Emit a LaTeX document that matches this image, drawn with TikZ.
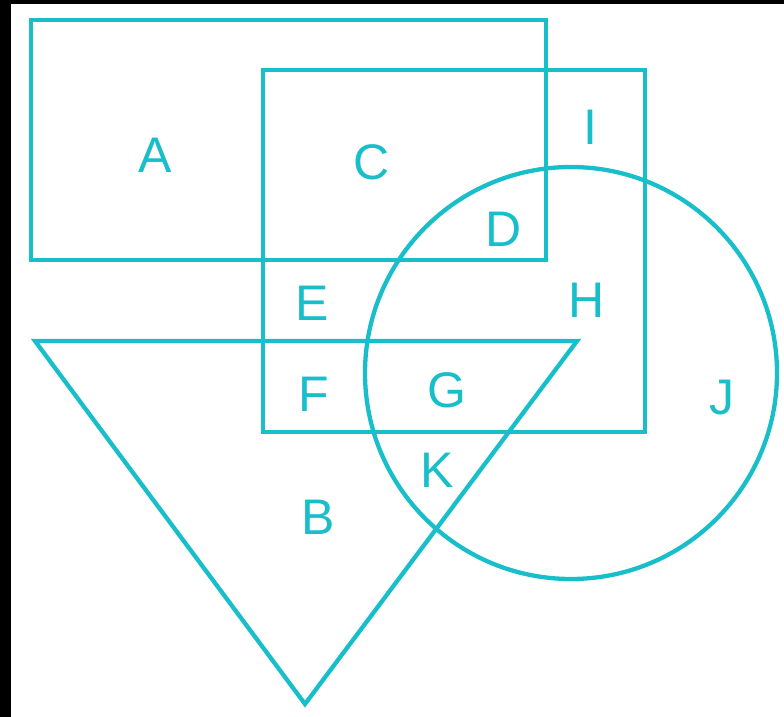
\documentclass[tikz,border=0pt]{standalone}
\usepackage{fontspec}
\setmainfont{Liberation Sans}
\usepackage{xcolor}
\definecolor{setc}{HTML}{18BECA}

\begin{document}
\begin{tikzpicture}[x=1pt, y=-1pt, line width=4.3pt,
  lbl/.style={text=setc, font=\fontsize{50}{56}\selectfont, inner sep=0pt}]
  \useasboundingbox (0,0) rectangle (784,717);
  % black frame edges
  \fill[black] (0,0) rectangle (11,717);
  \fill[black] (0,0) rectangle (784,4);

  % sets
  \draw[setc] (31,20) rectangle (546,260);
  \draw[setc] (263,70) rectangle (645,432);
  \draw[setc] (571,373) circle (206);
  \draw[setc, line join=miter] (35,341) -- (577,341) -- (305,704) -- cycle;

  % region labels
  \node[lbl] (la) at (155,155) {A};
  \node[lbl] (lc) at (372,162) {C};
  \node[lbl] (li) at (590,127) {I};
  \node[lbl] (ld) at (504,229) {D};
  \node[lbl] (le) at (312,303) {E};
  \node[lbl] (lh) at (587,300) {H};
  \node[lbl] (lf) at (314,394) {F};
  \node[lbl] (lg) at (447,390) {G};
  \node[lbl] (lj) at (722,398) {J};
  \node[lbl] (lk) at (437,470) {K};
  \node[lbl] (lb) at (318,517) {B};
\end{tikzpicture}
\end{document}
